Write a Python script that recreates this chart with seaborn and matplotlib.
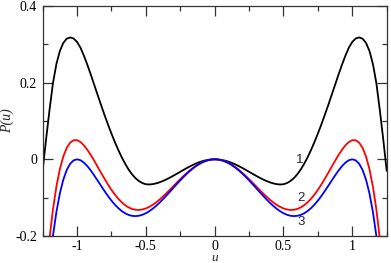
import numpy as np
import pandas as pd
import seaborn as sns
import matplotlib
matplotlib.use("Agg")
import matplotlib.pyplot as plt
from matplotlib.ticker import MultipleLocator, FuncFormatter

# values, u from -1.25 to 1.25 in steps of 0.025
u = [-1.250, -1.225, -1.200, -1.175, -1.150, -1.125, -1.100, -1.075, -1.050, -1.025,
     -1.000, -0.975, -0.950, -0.925, -0.900, -0.875, -0.850, -0.825, -0.800, -0.775,
     -0.750, -0.725, -0.700, -0.675, -0.650, -0.625, -0.600, -0.575, -0.550, -0.525,
     -0.500, -0.475, -0.450, -0.425, -0.400, -0.375, -0.350, -0.325, -0.300, -0.275,
     -0.250, -0.225, -0.200, -0.175, -0.150, -0.125, -0.100, -0.075, -0.050, -0.025,
     0.000, 0.025, 0.050, 0.075, 0.100, 0.125, 0.150, 0.175, 0.200, 0.225,
     0.250, 0.275, 0.300, 0.325, 0.350, 0.375, 0.400, 0.425, 0.450, 0.475,
     0.500, 0.525, 0.550, 0.575, 0.600, 0.625, 0.650, 0.675, 0.700, 0.725,
     0.750, 0.775, 0.800, 0.825, 0.850, 0.875, 0.900, 0.925, 0.950, 0.975,
     1.000, 1.025, 1.050, 1.075, 1.100, 1.125, 1.150, 1.175, 1.200, 1.225, 1.250]

p1 = [-0.0300, 0.0520, 0.1285, 0.1985, 0.2485, 0.2823, 0.3035, 0.3147, 0.3180, 0.3153, 0.3063,
      0.2913, 0.2703, 0.2466, 0.2211, 0.1944, 0.1677, 0.1412, 0.1155, 0.0907, 0.0672,
      0.0450, 0.0242, 0.0052, -0.0118, -0.0268, -0.0393, -0.0493, -0.0568, -0.0620, -0.0650,
      -0.0656, -0.0647, -0.0627, -0.0599, -0.0564, -0.0523, -0.0477, -0.0428, -0.0377, -0.0325,
      -0.0273, -0.0223, -0.0176, -0.0132, -0.0093, -0.0060, -0.0034, -0.0015, -0.0004,
      0.0,
      -0.0004, -0.0015, -0.0034, -0.0060, -0.0093, -0.0132, -0.0176, -0.0223, -0.0273,
      -0.0325, -0.0377, -0.0428, -0.0477, -0.0523, -0.0564, -0.0599, -0.0627, -0.0647, -0.0656,
      -0.0650, -0.0620, -0.0568, -0.0493, -0.0393, -0.0268, -0.0118, 0.0052, 0.0242, 0.0450,
      0.0672, 0.0907, 0.1155, 0.1412, 0.1677, 0.1944, 0.2211, 0.2466, 0.2703, 0.2913,
      0.3063, 0.3153, 0.3180, 0.3147, 0.3035, 0.2823, 0.2485, 0.1985, 0.1285, 0.0520, -0.0300]

p2 = [-0.4163, -0.3011, -0.2068, -0.1310, -0.0714, -0.0260, 0.0071, 0.0298, 0.0435, 0.0498, 0.0500,
      0.0452, 0.0365, 0.0249, 0.0113, -0.0038, -0.0195, -0.0354, -0.0509, -0.0658, -0.0795,
      -0.0920, -0.1029, -0.1122, -0.1198, -0.1255, -0.1295, -0.1316, -0.1320, -0.1308, -0.1281,
      -0.1240, -0.1187, -0.1122, -0.1049, -0.0968, -0.0882, -0.0792, -0.0700, -0.0608, -0.0518,
      -0.0431, -0.0349, -0.0272, -0.0204, -0.0144, -0.0093, -0.0053, -0.0024, -0.0006,
      0.0,
      -0.0006, -0.0024, -0.0053, -0.0093, -0.0144, -0.0204, -0.0272, -0.0349, -0.0431,
      -0.0518, -0.0608, -0.0700, -0.0792, -0.0882, -0.0968, -0.1049, -0.1122, -0.1187, -0.1240,
      -0.1281, -0.1308, -0.1320, -0.1316, -0.1295, -0.1255, -0.1198, -0.1122, -0.1029, -0.0920,
      -0.0795, -0.0658, -0.0509, -0.0354, -0.0195, -0.0038, 0.0113, 0.0249, 0.0365, 0.0452,
      0.0500, 0.0498, 0.0435, 0.0298, 0.0071, -0.0260, -0.0714, -0.1310, -0.2068, -0.3011, -0.4163]

p3 = [-0.4944, -0.3761, -0.2788, -0.2000, -0.1375, -0.0893, -0.0534, -0.0280, -0.0116, -0.0027, 0.0,
      -0.0023, -0.0086, -0.0178, -0.0292, -0.0421, -0.0556, -0.0694, -0.0829, -0.0958, -0.1077,
      -0.1183, -0.1274, -0.1350, -0.1409, -0.1451, -0.1475, -0.1481, -0.1472, -0.1446, -0.1406,
      -0.1353, -0.1288, -0.1213, -0.1129, -0.1039, -0.0943, -0.0845, -0.0745, -0.0646, -0.0549,
      -0.0456, -0.0369, -0.0288, -0.0215, -0.0151, -0.0098, -0.0056, -0.0025, -0.0006,
      0.0,
      -0.0006, -0.0025, -0.0056, -0.0098, -0.0151, -0.0215, -0.0288, -0.0369, -0.0456,
      -0.0549, -0.0646, -0.0745, -0.0845, -0.0943, -0.1039, -0.1129, -0.1213, -0.1288, -0.1353,
      -0.1406, -0.1446, -0.1472, -0.1481, -0.1475, -0.1451, -0.1409, -0.1350, -0.1274, -0.1183,
      -0.1077, -0.0958, -0.0829, -0.0694, -0.0556, -0.0421, -0.0292, -0.0178, -0.0086, -0.0023,
      0.0, -0.0027, -0.0116, -0.0280, -0.0534, -0.0893, -0.1375, -0.2000, -0.2788, -0.3761, -0.4944]

curve_names = ["1", "2", "3"]
curve_colors = ["black", "red", "blue"]

sns.set_style("ticks")
plt.rcParams["font.family"] = ["Liberation Serif", "DejaVu Serif"]
plt.rcParams["axes.unicode_minus"] = False

fig = plt.figure(figsize=(3.91, 2.63), dpi=100)
ax = fig.add_axes([0.109, 0.1027, 0.88, 0.8745])

for vals, col in zip([p1, p2, p3], curve_colors):
    df = pd.DataFrame({"u": u, "P": vals})
    sns.lineplot(data=df, x="u", y="P", color=col, linewidth=1.3, ax=ax)

ax.set_xlim(-1.25, 1.25)
ax.set_ylim(-0.2, 0.4)
ax.xaxis.set_major_locator(MultipleLocator(0.5))
ax.xaxis.set_minor_locator(MultipleLocator(0.25))
ax.yaxis.set_major_locator(MultipleLocator(0.2))
ax.yaxis.set_minor_locator(MultipleLocator(0.1))
fmt = FuncFormatter(lambda v, pos: "%g" % round(v, 3))
ax.xaxis.set_major_formatter(fmt)
ax.yaxis.set_major_formatter(fmt)
ax.tick_params(which="both", direction="in", top=True, right=True,
               colors="#333333", labelcolor="black", labelsize=10)
ax.tick_params(which="major", length=7, width=0.9, pad=4)
ax.tick_params(axis="x", which="major", pad=3)
ax.tick_params(which="minor", length=3.5, width=0.9)
for s in ax.spines.values():
    s.set_color("#333333")
    s.set_linewidth(0.9)

ax.set_xlabel("u", fontsize=9.5, style="italic", labelpad=-1)
ax.set_ylabel("P(u)", fontsize=10, style="italic", labelpad=1)

# curve numbers
for name, (x, y) in zip(curve_names, [(0.62, -0.003), (0.63, -0.102), (0.63, -0.163)]):
    ax.text(x, y, name, fontsize=9.5, family=["Liberation Sans", "DejaVu Sans"],
            ha="center", va="center")

fig.savefig("out.png", dpi=100)
